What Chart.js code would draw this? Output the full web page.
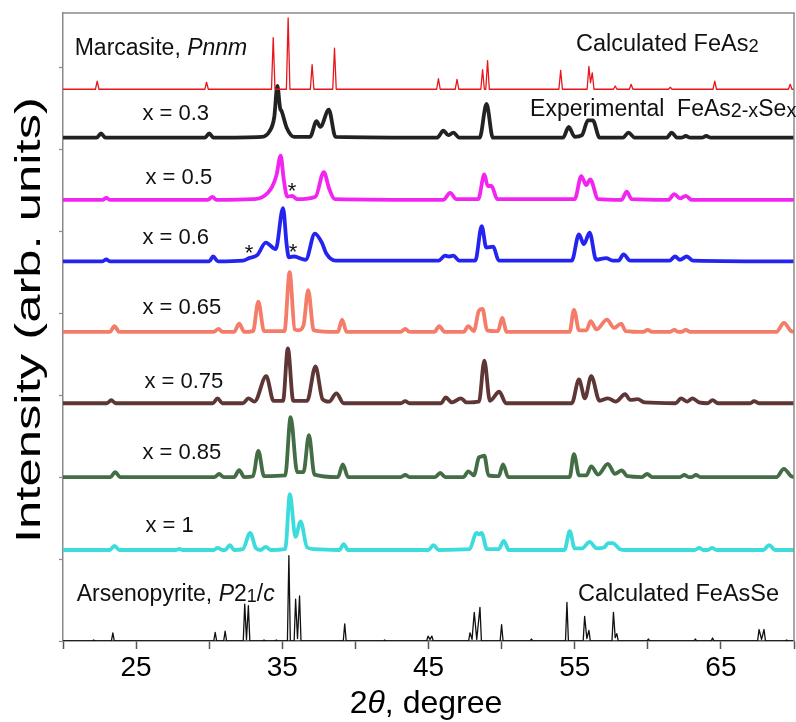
<!DOCTYPE html>
<html>
<head>
<meta charset="utf-8">
<script src="https://cdn.jsdelivr.net/npm/chart.js@4/dist/chart.umd.min.js"></script>
<style>
html,body{margin:0;padding:0;background:#fff;}
canvas{display:block;}
</style>
</head>
<body>
<canvas id="c" width="796" height="722"></canvas>
<script>
// ---------------- DATA ----------------
// x: 2-theta (degree); y: intensity (arb. units) relative to each pattern's baseline
const xTickLabels = [25, 35, 45, 55, 65];
const seriesNames = ['Marcasite calc', 'x = 0.3', 'x = 0.5', 'x = 0.6', 'x = 0.65', 'x = 0.75', 'x = 0.85', 'x = 1', 'Arsenopyrite calc'];
const baselineOffsets = [673, 614, 538, 463, 377, 290, 200, 111, 0];

const marcasiteCalc = [[20,0],[22.22,0],[22.34,10],[22.46,0],[29.7,0],[29.82,8.5],[29.94,0],[34.26,0],[34.38,63],[34.5,0],[35.28,0],[35.4,87],[35.52,0],[36.92,0],[37.04,30],[37.16,0],[38.45,0],[38.57,50],[38.69,0],[45.56,0],[45.68,13],[45.8,0],[46.83,0],[46.95,12],[47.07,0],[48.58,0],[48.7,24],[48.82,0],[48.92,0],[49.04,35],[49.16,0],[53.92,0],[54.04,23],[54.16,0],[55.85,0],[55.97,28],[56.08,8],[56.2,20],[56.32,0],[57.65,0],[57.77,4],[57.89,0],[58.74,0],[58.86,6],[58.98,0],[61.42,0],[61.54,2.5],[61.66,0],[64.46,0],[64.58,10],[64.7,0],[69.62,0],[69.74,6],[69.86,0],[70,0]];

const exp03 = [[20,0],[22.3,0],[22.6,5],[22.9,0],[29.7,0],[30.0,5],[30.3,0],[33.6,1],[34.1,7],[34.45,25],[34.66,63],[34.85,36],[34.96,32],[35.3,12],[35.8,1],[36.9,1],[37.34,20],[37.6,13],[38.18,34],[38.64,1],[45.6,0],[46.02,8.5],[46.35,3],[46.7,6],[47.1,0],[48.5,0],[48.97,41],[49.4,0],[54.2,0],[54.59,13],[55.0,1],[55.5,3],[55.9,21],[56.24,21],[56.7,0],[58.3,0],[58.68,6],[59.1,0],[61.3,0],[61.63,6],[62.0,0],[62.3,0],[62.6,2],[62.9,0],[63.7,0],[64.0,2],[64.3,0],[70,0]];

const exp05 = [[20,0],[22.7,0],[22.96,2.5],[23.2,0],[29.9,0],[30.22,3.7],[30.5,0],[33.0,1],[33.6,3],[34.3,16],[34.6,30],[34.89,54],[35.1,25],[35.34,4],[35.68,5],[36.0,1],[37.27,4],[37.84,34],[38.2,14],[38.59,1],[46.0,0],[46.48,8.5],[46.9,1],[48.4,1],[48.82,31],[49.05,17],[49.31,17],[49.7,1],[55.0,1],[55.45,29],[55.79,18],[56.06,25],[56.6,1],[58.2,0],[58.56,10],[58.9,1],[61.4,0],[61.81,7],[62.2,2],[62.6,5],[63.0,0],[70,0]];

const exp06 = [[20,0],[22.7,0],[22.96,2.5],[23.2,0],[30.0,0],[30.27,6],[30.6,0],[32.3,1],[32.73,4],[33.3,8],[33.87,23],[34.55,15],[35.05,65],[35.3,20],[35.45,5],[35.8,6],[36.6,2],[37.23,34],[37.73,22],[38.0,10],[38.64,1],[45.7,1],[46.13,7],[46.4,6],[46.7,7],[47.1,1],[48.2,1],[48.64,43],[48.95,17],[49.43,18],[49.8,1],[54.8,1],[55.29,33],[55.63,21],[56.02,35],[56.47,2],[57.15,4],[57.6,1],[58.0,1],[58.34,8.5],[58.8,1],[61.5,1],[61.86,6],[62.2,2],[62.67,6],[63.1,1],[70,0]];

const exp065 = [[20,0],[23.2,0],[23.52,7],[23.85,0],[30.3,0],[30.64,3.7],[30.9,0],[31.7,0],[32.05,10],[32.4,0],[33.0,1],[33.36,37],[33.75,1],[35.15,1],[35.5,73],[35.85,3],[36.1,2],[36.45,8],[36.77,51],[37.15,2],[38.8,0],[39.09,15],[39.4,0],[43.1,0],[43.41,3.7],[43.7,0],[45.4,0],[45.73,7],[46.1,0],[47.4,0],[47.72,7],[48.1,1],[48.45,26],[48.7,28],[49.0,2],[49.75,1],[50.04,17],[50.35,0],[54.65,0],[54.95,27],[55.3,2],[55.8,2],[56.09,13],[56.5,3],[57.2,15],[57.7,5],[58.17,10],[58.5,1],[59.7,0],[59.99,2.5],[60.3,0],[61.5,0],[61.82,2.5],[62.1,0],[62.3,0],[62.6,2.5],[62.9,0],[68.8,0],[69.31,11],[69.8,1],[70,0]];

const exp075 = [[20,0],[23.0,0],[23.3,3.7],[23.6,0],[30.25,0],[30.57,6],[30.9,0],[32.3,0],[32.68,6],[33.1,2],[33.9,33],[34.4,3],[35.05,3],[35.38,67],[35.75,3],[36.7,3],[37.27,45],[37.75,5],[38.2,2],[38.7,12],[39.2,0],[43.1,0],[43.41,2.5],[43.7,0],[45.85,0],[46.18,7],[46.6,1],[47.22,6],[47.6,1],[48.45,2],[48.82,52],[49.2,3],[49.84,14],[50.3,0],[54.8,0],[55.29,29],[55.7,6],[56.13,33],[56.7,3],[57.27,6],[57.8,2],[58.45,11],[58.8,4],[59.3,5],[59.8,1],[61.9,0],[62.27,6],[62.7,2],[63.06,6],[63.5,1],[64.1,0],[64.43,3.7],[64.8,0],[67.0,0],[67.27,2.5],[67.6,0],[70,0]];

const exp085 = [[20,0],[23.25,0],[23.57,6],[23.9,0],[30.35,0],[30.68,3.7],[31.0,0],[31.7,0],[32.05,8.5],[32.4,0],[33.0,1],[33.36,32],[33.75,1],[35.2,2],[35.57,73],[36.02,6],[36.45,6],[36.82,51],[37.2,3],[38.8,0],[39.14,15.5],[39.5,0],[43.1,0],[43.41,2.5],[43.7,0],[45.45,0],[45.8,5],[46.15,0],[47.4,0],[47.72,7],[48.1,2],[48.45,24],[48.6,25],[48.82,26],[49.1,2],[49.8,1],[50.1,15.5],[50.45,0],[54.65,0],[54.95,28],[55.3,2],[55.8,2],[56.13,13],[56.6,3],[57.27,16],[57.75,4],[58.22,8],[58.6,1],[59.6,0],[59.95,3.7],[60.3,0],[62.2,0],[62.5,2.5],[62.8,0],[63.0,0],[63.29,2.5],[63.6,0],[68.8,0],[69.31,10],[69.8,1],[70,0]];

const exp1 = [[20,0],[23.2,0],[23.52,5],[23.85,0],[27.7,0],[27.96,1.2],[28.2,0],[30.3,0],[30.57,2.5],[30.9,0],[31.1,0],[31.41,6],[31.7,0],[32.3,1],[32.8,21],[33.2,2],[33.5,0],[33.87,3.7],[34.2,0],[35.2,1],[35.52,68],[35.9,16],[36.25,35],[36.7,3],[37.2,1],[38.9,0],[39.2,7],[39.5,0],[45.0,0],[45.34,6],[45.7,0],[47.8,1],[48.29,21],[48.46,19],[48.63,21],[49.0,1],[49.8,1],[50.15,11],[50.5,0],[54.3,0],[54.66,23],[55.0,2],[55.5,2],[56.02,10],[56.5,2],[57.0,3],[57.3,8.5],[57.6,8.5],[58.1,1],[58.5,0],[63.2,0],[63.52,2.5],[63.8,0],[64.1,0],[64.4,2.5],[64.7,0],[67.9,0],[68.3,6],[68.7,0],[70,0]];

const arsenopyriteCalc = [[20,0],[22.0,0],[22.1,1.2],[22.2,0],[23.31,0],[23.41,10],[23.51,0],[30.31,0],[30.41,10.6],[30.51,0],[30.99,0],[31.09,12],[31.19,0],[32.33,0],[32.43,45],[32.55,2],[32.68,43],[32.78,0],[33.65,0],[33.75,1.2],[33.85,0],[34.49,0],[34.59,1.2],[34.69,0],[35.35,0],[35.45,104],[35.55,0],[35.81,0],[35.91,51],[36.04,3],[36.18,55],[36.28,0],[39.17,0],[39.27,21],[39.37,0],[41.9,0],[42.0,1.2],[42.1,0],[44.87,0],[44.97,6],[45.1,2],[45.23,6],[45.33,0],[47.74,0],[47.84,10],[47.98,2],[48.13,35],[48.3,2],[48.52,41],[48.62,0],[49.9,0],[50.0,20],[50.1,0],[51.94,0],[52.04,2.4],[52.14,0],[54.37,0],[54.47,47],[54.57,0],[55.58,0],[55.68,30],[55.83,3],[55.97,13],[56.07,0],[57.55,0],[57.65,35],[57.77,4],[57.88,9],[57.98,0],[59.94,0],[60.04,2.4],[60.14,0],[63.15,0],[63.25,2.4],[63.35,0],[64.33,0],[64.43,3.7],[64.53,0],[67.51,0],[67.61,14],[67.78,2],[67.95,14],[68.05,0],[69.4,0],[69.5,1.2],[69.6,0],[70,0]];

const seriesValues = [marcasiteCalc, exp03, exp05, exp06, exp065, exp075, exp085, exp1, arsenopyriteCalc];

// ---------------- STYLE ----------------
const FONT = '"Liberation Sans", Arial, Helvetica, sans-serif';
const seriesColors = ['#e8161c', '#222222', '#f224f2', '#2424f0', '#f47c68', '#5e3636', '#436d45', '#3ddcdc', '#111111'];
const seriesWidths = [1.3, 3.8, 3.8, 3.8, 3.8, 3.8, 3.8, 3.8, 1.3];
const isCalculated = [true, false, false, false, false, false, false, false, true];

// text annotations: [2theta, y (arb. units), segments]
const textNotes = [
  {at: [20.8, 715], size: 23, segs: [{t: 'Marcasite, '}, {t: 'Pnnm', it: true}]},
  {at: [55.09, 720], size: 23.5, segs: [{t: 'Calculated FeAs'}, {t: '2', sub: true}]},
  {at: [51.95, 640], size: 23, subScale: 0.86, segs: [{t: 'Experimental  FeAs'}, {t: '2-x', sub: true}, {t: 'Se'}, {t: 'x', sub: true}]},
  {at: [25.43, 635], size: 22, segs: [{t: 'x = 0.3'}]},
  {at: [25.64, 558], size: 22, segs: [{t: 'x = 0.5'}]},
  {at: [25.43, 484], size: 22, segs: [{t: 'x = 0.6'}]},
  {at: [25.43, 399], size: 22, segs: [{t: 'x = 0.65'}]},
  {at: [25.57, 309], size: 22, segs: [{t: 'x = 0.75'}]},
  {at: [25.43, 222], size: 22, segs: [{t: 'x = 0.85'}]},
  {at: [25.64, 133], size: 22, segs: [{t: 'x = 1'}]},
  {at: [20.94, 49], size: 23, segs: [{t: 'Arsenopyrite, '}, {t: 'P', it: true}, {t: '2'}, {t: '1', sub: true}, {t: '/'}, {t: 'c', it: true}]},
  {at: [55.22, 49], size: 23.5, segs: [{t: 'Calculated FeAsSe'}]}
];
const starNotes = [[35.66, 540], [32.73, 465], [35.73, 466.5]];

const datasets = seriesValues.map((arr, i) => ({
  label: seriesNames[i],
  data: arr.map(([x, y]) => ({x: x, y: y + baselineOffsets[i]})),
  borderColor: seriesColors[i],
  borderWidth: seriesWidths[i],
  pointRadius: 0,
  fill: false,
  cubicInterpolationMode: isCalculated[i] ? 'default' : 'monotone',
  tension: 0,
  borderJoinStyle: 'round',
  borderCapStyle: 'round'
}));

function drawRich(ctx, x, y, segs, size, subScale) {
  let cx = x;
  const k = subScale || 0.78;
  for (const s of segs) {
    const fs = s.sub ? size * k : size;
    ctx.font = (s.it ? 'italic ' : '') + fs + 'px ' + FONT;
    ctx.fillText(s.t, cx, y + (s.sub ? size * 0.04 : 0));
    cx += ctx.measureText(s.t).width;
  }
}

const decorPlugin = {
  id: 'decor',
  afterDraw(chart) {
    const {ctx, chartArea: a, scales: {x, y}} = chart;
    ctx.save();
    // frame top & right
    ctx.strokeStyle = '#8a8a8a';
    ctx.lineWidth = 1.5;
    ctx.beginPath();
    ctx.moveTo(a.left, a.top);
    ctx.lineTo(a.right, a.top);
    ctx.lineTo(a.right, a.bottom);
    ctx.stroke();
    // annotations
    ctx.fillStyle = '#111';
    ctx.textBaseline = 'alphabetic';
    ctx.textAlign = 'left';
    for (const n of textNotes) {
      drawRich(ctx, x.getPixelForValue(n.at[0]), y.getPixelForValue(n.at[1]), n.segs, n.size, n.subScale);
    }
    ctx.textAlign = 'center';
    ctx.font = '22px ' + FONT;
    for (const s of starNotes) {
      ctx.fillText('*', x.getPixelForValue(s[0]), y.getPixelForValue(s[1]));
    }
    // axis titles
    ctx.fillStyle = '#000';
    ctx.textAlign = 'left';
    const xs = [{t: '2'}, {t: 'θ', it: true}, {t: ', degree'}];
    let w = 0;
    for (const s of xs) { ctx.font = (s.it ? 'italic ' : '') + '32px ' + FONT; w += ctx.measureText(s.t).width; }
    drawRich(ctx, 426 - w / 2, 713, xs, 32);
    const yTitle = 'Intensity (arb. units)';
    ctx.font = '35px ' + FONT;
    const tw = ctx.measureText(yTitle).width;
    ctx.translate(40, 320);
    ctx.rotate(-Math.PI / 2);
    ctx.scale(446 / tw, 1);
    ctx.textAlign = 'center';
    ctx.fillText(yTitle, 0, 0);
    ctx.restore();
  }
};

new Chart(document.getElementById('c'), {
  type: 'line',
  data: {datasets},
  options: {
    responsive: false,
    animation: false,
    devicePixelRatio: 1,
    layout: {padding: {top: 13, right: 1, left: 0, bottom: 0}},
    plugins: {legend: {display: false}, tooltip: {enabled: false}},
    scales: {
      x: {
        type: 'linear', min: 20, max: 70,
        ticks: {
          stepSize: 5, autoSkip: false, maxRotation: 0, includeBounds: false,
          color: '#000', padding: 2,
          font: {size: 28, family: FONT},
          callback: (v) => xTickLabels.includes(v) ? String(v) : ''
        },
        grid: {drawOnChartArea: false, drawTicks: true, tickLength: 8, tickColor: '#555', tickWidth: 1.5},
        border: {display: true, color: '#555', width: 1.5},
        afterFit: (s) => { s.height = 81; }
      },
      y: {
        type: 'linear', min: 0, max: 766,
        ticks: {stepSize: 100, display: false, includeBounds: false},
        grid: {drawOnChartArea: false, drawTicks: true, tickLength: 4, tickColor: '#8a8a8a', tickWidth: 1.2},
        border: {display: true, color: '#8a8a8a', width: 1.5},
        afterFit: (s) => { s.width = 63; }
      }
    }
  },
  plugins: [decorPlugin]
});
</script>
</body>
</html>
